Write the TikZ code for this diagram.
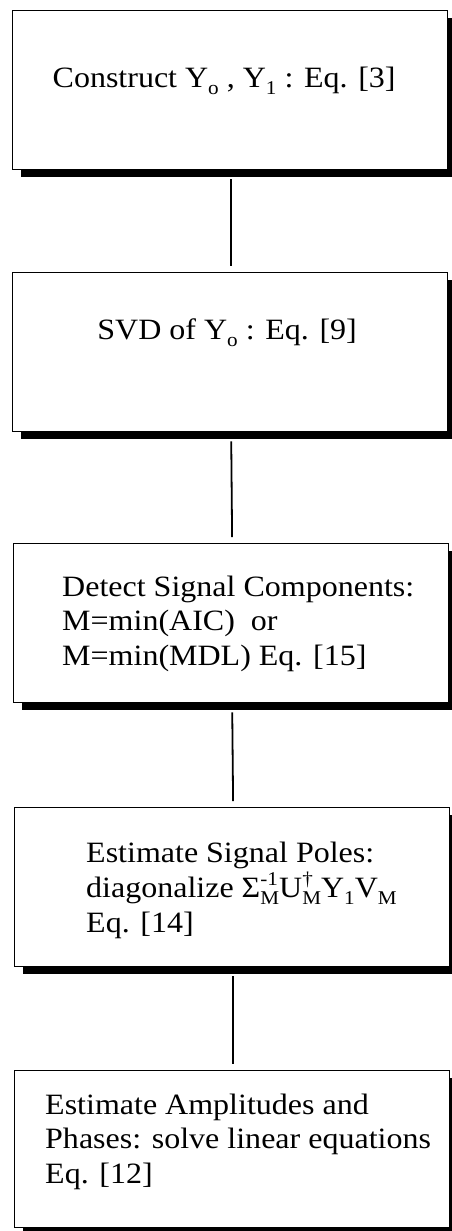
\documentclass[tikz,border=0pt]{standalone}
\usepackage{fontspec}
\setmainfont{Liberation Serif}[FakeStretch=1.085]
\usetikzlibrary{shadows}

% multi-line label whose baseline is that of its first line
\newcommand\stacklines[1]{\begin{tabular}[t]{@{}l@{}}#1\end{tabular}}
% lowered and raised indices in a smaller size
\newcommand\lowidx[1]{\raisebox{-0.24em}{\fontsize{19.5pt}{19.5pt}\selectfont #1}}
\newcommand\highidx[1]{\raisebox{0.40em}{\fontsize{19.5pt}{19.5pt}\selectfont #1}}
% superscript set over a subscript
\newcommand\supsub[2]{\rlap{\highidx{#1}}\lowidx{#2}}

\tikzset{
  stepbox/.style={draw=black, line width=1.3pt, fill=white, inner sep=0pt,
    anchor=north west, minimum width=435pt, minimum height=159pt,
    drop shadow={shadow xshift=8pt, shadow yshift=-7pt, fill=black, opacity=1}},
  steptext/.style={inner sep=0pt, anchor=base west,
    font=\fontsize{29.5pt}{34.5pt}\selectfont},
  link/.style={draw=black, line width=1.8pt, shorten <=9pt, shorten >=6pt}
}

\begin{document}
\begin{tikzpicture}[x=1pt, y=-1pt]
\useasboundingbox (0,0) rectangle (452,1231);

% the five processing steps
\node[stepbox] (b1) at (12,10) {};
\node[stepbox] (b2) at (12,272) {};
\node[stepbox] (b3) at (13,543) {};
\node[stepbox] (b4) at (14,807) {};
\node[stepbox, minimum height=157pt] (b5) at (14,1070) {};

% labels
\node[steptext, anchor=base] (t1) at ([xshift=-6pt, yshift=-77pt]b1.north)
  {Construct Y\lowidx{o} , Y\lowidx{1} : Eq. [3]};
\node[steptext, anchor=base] (t2) at ([xshift=-3pt, yshift=-67pt]b2.north)
  {SVD of Y\lowidx{o} : Eq. [9]};
\node[steptext] (t3) at ([xshift=49pt, yshift=-53pt]b3.north west)
  {\stacklines{Detect Signal Components:\\ M=min(AIC) \ or\\ M=min(MDL) Eq. [15]}};
\node[steptext] (t4) at ([xshift=72pt, yshift=-55pt]b4.north west)
  {\stacklines{Estimate Signal Poles:\\
   diagonalize Σ\supsub{-1}{M}U\supsub{†}{M}Y\lowidx{1}V\lowidx{M}\\
   Eq. [14]}};
\node[steptext] (t5) at ([xshift=31pt, yshift=-44pt]b5.north west)
  {\stacklines{Estimate Amplitudes and\\ Phases: solve linear equations\\ Eq. [12]}};

% connectors between consecutive steps
\draw[link] ([xshift=1pt]b1.south) -- ([xshift=1pt]b2.north);
\draw[link] ([xshift=1pt]b2.south) -- ([xshift=1pt]b3.north);
\draw[link] ([xshift=1pt]b3.south) -- ([xshift=1pt]b4.north);
\draw[link] ([xshift=1pt]b4.south) -- ([xshift=1pt]b5.north);
\end{tikzpicture}
\end{document}
